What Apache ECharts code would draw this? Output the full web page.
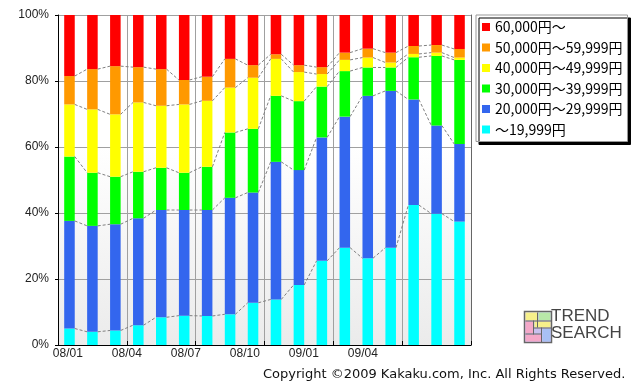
<!DOCTYPE html>
<html><head><meta charset="utf-8">
<script src="https://cdn.jsdelivr.net/npm/echarts@6/dist/echarts.min.js"></script>
<style>html,body{margin:0;padding:0;background:#fff}#c{width:640px;height:391px}</style>
</head><body><div id="c"></div>
<script>
var categories = ['08/01','08/02','08/03','08/04','08/05','08/06','08/07','08/08','08/09','08/10','08/11','08/12','09/01','09/02','09/03','09/04','09/05','09/06'];
var tickLabels = ['08/01','08/04','08/07','08/10','09/01','09/04'];
var seriesNames = ['〜19,999円','20,000円〜29,999円','30,000円〜39,999円','40,000円〜49,999円','50,000円〜59,999円','60,000円〜'];
var colors = ['#00ffff','#3366ee','#00ff00','#ffff00','#ff9900','#ff0000'];
var v19999 = [5.0,4.0,4.4,6.0,8.4,8.9,8.8,9.3,12.8,13.8,18.2,25.5,29.5,26.3,29.5,42.4,39.8,37.4];
var v20000 = [32.6,32.1,32.2,32.4,32.5,32.0,32.1,35.3,33.4,41.7,34.8,37.4,39.7,49.2,47.5,32.0,26.7,23.5];
var v30000 = [19.5,16.1,14.4,14.1,12.8,11.3,13.1,19.8,19.3,20.0,20.9,15.4,13.8,8.6,7.1,12.8,21.1,25.5];
var v40000 = [15.8,19.2,18.9,21.0,18.8,20.7,20.0,13.6,15.5,11.2,8.8,3.8,3.4,3.0,1.5,1.0,1.0,0.7];
var v50000 = [8.6,12.2,14.6,10.7,11.1,7.4,7.3,8.7,3.8,1.4,2.1,2.1,2.2,2.7,3.0,2.4,2.3,2.6];
var v60000 = [18.5,16.4,15.5,15.8,16.4,19.7,18.7,13.3,15.2,11.9,15.2,15.8,11.4,10.2,11.4,9.4,9.1,10.3];
var values = [v19999,v20000,v30000,v40000,v50000,v60000];

var labelSlots = [];
for (var i = 0; i < 21; i++) labelSlots.push(i % 3 === 0 && tickLabels[i/3] ? tickLabels[i/3] : '');

var cums = [];
for (var k = 0; k < 5; k++) {
  cums.push(categories.map(function(_, j){
    var s = 0; for (var m = 0; m <= k; m++) s += values[m][j]; return s;
  }));
}
var BARW = 0.46;
var series = values.map(function(arr, idx){
  return {name: seriesNames[idx], type: 'bar', stack: 'total', data: arr,
    barWidth: (BARW*100)+'%', itemStyle: {color: colors[idx]}, animation: false, z: 2};
});
series.push({
  type: 'custom', name: 'connectors', z: 3, animation: false, silent: true, clip: false,
  data: categories.slice(0, categories.length-1).map(function(_, j){ return [j, 0]; }),
  encode: {x: 0, y: 1},
  renderItem: function(params, api){
    var j = api.value(0);
    var slot = api.size([1, 0])[0];
    var hw = slot * BARW / 2;
    var children = [];
    for (var k = 0; k < 5; k++) {
      var p1 = api.coord([j, cums[k][j]]);
      var p2 = api.coord([j+1, cums[k][j+1]]);
      children.push({type: 'line', shape: {x1: p1[0]+hw, y1: p1[1], x2: p2[0]-hw, y2: p2[1]},
        style: {stroke: '#808080', lineWidth: 1, lineDash: [3, 2]}});
    }
    return {type: 'group', children: children};
  }
});

var chart = echarts.init(document.getElementById('c'), null, {renderer: 'canvas'});
chart.setOption({
  animation: false,
  grid: {left: 58, right: 169, top: 15, bottom: 46, show: true, borderWidth: 0,
    backgroundColor: new echarts.graphic.LinearGradient(0, 0, 0, 1, [
      {offset: 0, color: '#ffffff'}, {offset: 0.4, color: '#ffffff'}, {offset: 1, color: '#ebebeb'}])},
  legend: {
    orient: 'vertical', left: 476, top: 15,
    data: seriesNames.slice().reverse(),
    icon: 'rect', itemWidth: 8, itemHeight: 8, itemGap: 6.5, itemTextGap: 2,
    padding: [5, 5, 5, 6],
    backgroundColor: '#ffffff', borderColor: '#999', borderWidth: 1,
    shadowColor: '#000', shadowOffsetX: 3, shadowOffsetY: 3, shadowBlur: 0,
    textStyle: {fontFamily: 'Noto Sans CJK JP', fontSize: 14, lineHeight: 14, color: '#000'},
    selectedMode: false
  },
  xAxis: [{
    type: 'category', data: categories, boundaryGap: true,
    axisLine: {show: true, lineStyle: {color: '#000', width: 1}},
    axisTick: {show: true, interval: 2, inside: true, length: 4, lineStyle: {color: '#000'}},
    axisLabel: {show: false},
    splitLine: {show: true, interval: 2, lineStyle: {color: '#a0a0a0', width: 1}}
  }, {
    type: 'category', data: labelSlots, boundaryGap: true, position: 'bottom',
    axisLine: {show: false}, axisTick: {show: false}, splitLine: {show: false},
    axisLabel: {interval: 0, margin: 3, fontFamily: 'Liberation Sans', fontSize: 12, color: '#222'}
  }],
  yAxis: [{
    type: 'value', min: 0, max: 100, interval: 20,
    axisLine: {show: true, lineStyle: {color: '#000', width: 1}},
    axisTick: {show: true, length: 3, lineStyle: {color: '#000'}},
    axisLabel: {formatter: '{value}%', margin: 9, fontFamily: 'Liberation Sans', fontSize: 12, color: '#222'},
    splitLine: {show: true, lineStyle: {color: '#a0a0a0', width: 1}}
  }, {
    type: 'value', min: 0, max: 100, interval: 20, position: 'right',
    axisLine: {show: true, lineStyle: {color: '#666', width: 1}},
    axisTick: {show: false}, axisLabel: {show: false}, splitLine: {show: false}
  }],
  series: series,
  graphic: [
    {type: 'text', left: 263, top: 368, style: {text: 'Copyright ©2009 Kakaku.com, Inc. All Rights Reserved.',
      font: '13px "DejaVu Sans"', fill: '#111'}},
    {type: 'group', left: 523, top: 310, children: [
      {type: 'rect', shape: {x: 0, y: 0, width: 27, height: 31}, style: {fill: '#c8c0ee', stroke: '#666', lineWidth: 1.5}},
      {type: 'rect', shape: {x: 1, y: 1, width: 12, height: 8}, style: {fill: '#f6f08a'}},
      {type: 'rect', shape: {x: 14, y: 1, width: 12, height: 8}, style: {fill: '#b8e8a8'}},
      {type: 'rect', shape: {x: 1, y: 10, width: 8, height: 12}, style: {fill: '#f4a8c8'}},
      {type: 'rect', shape: {x: 10, y: 10, width: 16, height: 6}, style: {fill: '#f6f08a'}},
      {type: 'rect', shape: {x: 1, y: 23, width: 16, height: 7}, style: {fill: '#f4a8c8'}},
      {type: 'rect', shape: {x: 18, y: 17, width: 8, height: 13}, style: {fill: '#a8c0f4'}},
      {type: 'line', shape: {x1: 9, y1: 9, x2: 9, y2: 23}, style: {stroke: '#666', lineWidth: 1}},
      {type: 'line', shape: {x1: 13, y1: 1, x2: 13, y2: 16}, style: {stroke: '#666', lineWidth: 1}},
      {type: 'line', shape: {x1: 17, y1: 16, x2: 17, y2: 31}, style: {stroke: '#666', lineWidth: 1}},
      {type: 'line', shape: {x1: 1, y1: 22.5, x2: 17, y2: 22.5}, style: {stroke: '#666', lineWidth: 1}},
      {type: 'line', shape: {x1: 9, y1: 16.5, x2: 27, y2: 16.5}, style: {stroke: '#666', lineWidth: 1}},
      {type: 'line', shape: {x1: 1, y1: 9.5, x2: 27, y2: 9.5}, style: {stroke: '#666', lineWidth: 1}}
    ]},
    {type: 'text', left: 551, top: 308, style: {text: 'TREND', font: '17px "Liberation Sans"', fill: '#444'}},
    {type: 'text', left: 551, top: 325, style: {text: 'SEARCH', font: '17px "Liberation Sans"', fill: '#444'}}
  ]
});
</script></body></html>
